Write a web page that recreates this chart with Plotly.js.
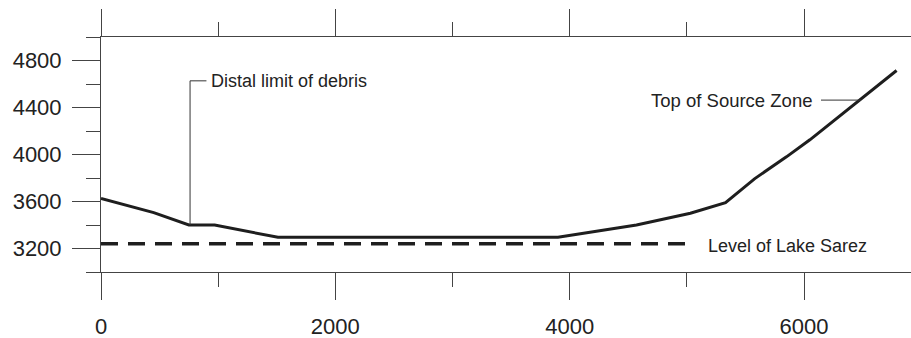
<!DOCTYPE html>
<html>
<head>
<meta charset="utf-8">
<script src="https://cdn.plot.ly/plotly-3.0.1.min.js"></script>
<style>html,body{margin:0;padding:0;background:#fff;}#chart{width:911px;height:338px;}</style>
</head>
<body>
<div id="chart"></div>
<script>
// Longitudinal profile (distance m, elevation m)
const profileX = [0, 450, 750, 970, 1510, 3900, 4570, 5030, 5330, 5580, 5850, 6050, 6790];
const profileY = [3625, 3505, 3400, 3400, 3295, 3295, 3400, 3500, 3590, 3795, 3980, 4125, 4715];
// Lake level
const lakeX = [0, 5040];
const lakeY = [3240, 3240];
// Labels
const labelText = ["Distal limit of debris", "Top of Source Zone", "Level of Lake Sarez"];

const ink = '#1e1e1e';
const axisColor = '#444';
const fontFam = 'Liberation Sans, Arial, sans-serif';

const traces = [
  {x: profileX, y: profileY, mode: 'lines', line: {color: ink, width: 3}, hoverinfo: 'skip'},
  {x: lakeX, y: lakeY, mode: 'lines', line: {color: ink, width: 3.5, dash: '17px,10px'}, hoverinfo: 'skip'}
];

const layout = {
  width: 911, height: 338,
  margin: {l: 101, r: 0, t: 37, b: 66},
  paper_bgcolor: '#fff', plot_bgcolor: '#fff',
  showlegend: false,
  font: {family: fontFam, color: '#222'},
  xaxis: {
    range: [0, 6913], showgrid: false, zeroline: false,
    showline: true, linecolor: axisColor, linewidth: 1, mirror: 'ticks',
    tickmode: 'linear', tick0: 0, dtick: 2000,
    ticks: 'outside', ticklen: 27, tickcolor: axisColor, tickwidth: 1,
    minor: {ticks: 'outside', ticklen: 14, dtick: 1000, tickcolor: axisColor, tickwidth: 1, showgrid: false},
    tickfont: {size: 22, color: '#222'}, ticklabelstandoff: 8
  },
  yaxis: {
    range: [3000, 5000], showgrid: false, zeroline: false,
    showline: true, linecolor: axisColor, linewidth: 1,
    tickmode: 'array', tickvals: [3200, 3600, 4000, 4400, 4800],
    ticktext: ['3200', '3600', '4000', '4400', '4800'],
    ticks: 'outside', ticklen: 28, tickcolor: axisColor, tickwidth: 1,
    minor: {ticks: 'outside', ticklen: 14, tickvals: [3000, 3400, 3800, 4200, 4600, 5000], tickcolor: axisColor, tickwidth: 1, showgrid: false},
    tickfont: {size: 22, color: '#222'}, ticklabelstandoff: 6
  },
  shapes: [
    {type: 'path', xref: 'x', yref: 'y', path: 'M 760 3400 L 760 4627 L 900 4627', line: {color: '#333', width: 1}},
    {type: 'line', xref: 'x', yref: 'y', x0: 6145, x1: 6486, y0: 4463, y1: 4463, line: {color: '#333', width: 1}}
  ],
  annotations: [
    {x: 920, y: 4627, xref: 'x', yref: 'y', text: labelText[0], showarrow: false, xanchor: 'left', yanchor: 'middle', font: {size: 18, color: '#222', family: fontFam}},
    {x: 6085, y: 4463, xref: 'x', yref: 'y', text: labelText[1], showarrow: false, xanchor: 'right', yanchor: 'middle', font: {size: 18.5, color: '#222', family: fontFam}},
    {x: 5165, y: 3222, xref: 'x', yref: 'y', text: labelText[2], showarrow: false, xanchor: 'left', yanchor: 'middle', font: {size: 18, color: '#222', family: fontFam}}
  ]
};

Plotly.newPlot('chart', traces, layout, {staticPlot: true, displayModeBar: false});
</script>
</body>
</html>
